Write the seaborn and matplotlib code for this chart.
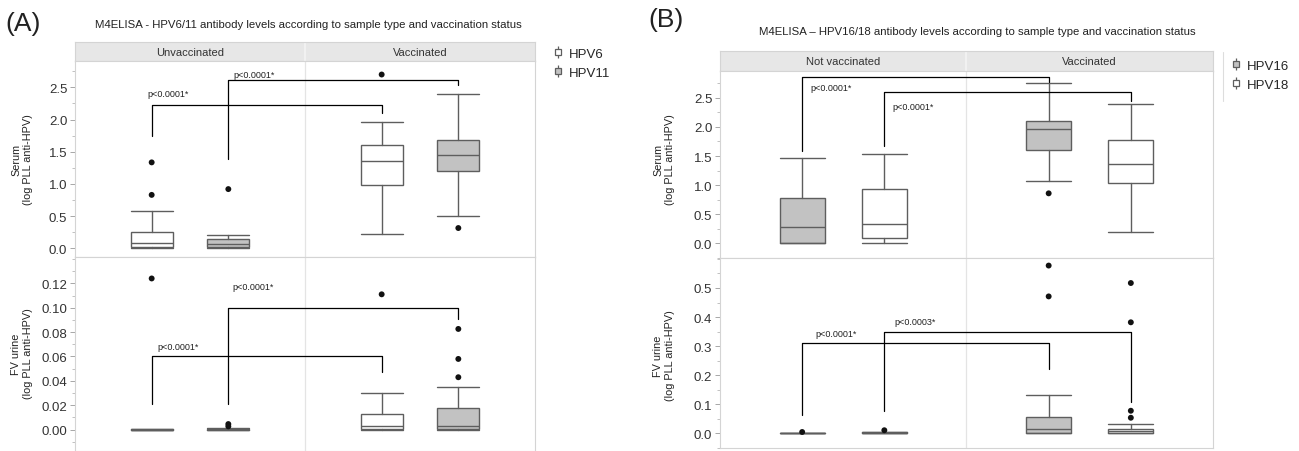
import numpy as np
import pandas as pd
import matplotlib
matplotlib.use("Agg")
import matplotlib.pyplot as plt
import seaborn as sns
from matplotlib.lines import Line2D
from matplotlib.ticker import MultipleLocator, FormatStrFormatter

sns.set_style("white")
plt.rcParams['font.family'] = ['Liberation Sans', 'DejaVu Sans']

# ---------------- Panel A : HPV6 / HPV11 ----------------
a_status = ["Unvaccinated", "Vaccinated"]
a_types = ["HPV6", "HPV11"]
# box order: Unvacc-HPV6, Unvacc-HPV11, Vacc-HPV6, Vacc-HPV11
a_serum_low = [0.0, 0.0, 0.23, 0.50]
a_serum_q1 = [0.015, 0.015, 0.98, 1.195]
a_serum_med = [0.083, 0.06, 1.36, 1.45]
a_serum_q3 = [0.25, 0.145, 1.60, 1.69]
a_serum_high = [0.575, 0.20, 1.96, 2.39]
a_serum_out = [[0.83, 1.335], [0.92], [2.70], [0.315]]
a_serum_ticks = [0.0, 0.5, 1.0, 1.5, 2.0, 2.5]

a_urine_low = [0.0, 0.0, 0.0, 0.0]
a_urine_q1 = [0.0, 0.0, 0.0005, 0.0005]
a_urine_med = [0.0, 0.0002, 0.0033, 0.0027]
a_urine_q3 = [0.0003, 0.0007, 0.0128, 0.0175]
a_urine_high = [0.0003, 0.001, 0.030, 0.035]
a_urine_out = [[0.124], [0.0027, 0.0046], [0.111], [0.043, 0.058, 0.0826]]
a_urine_ticks = [0.00, 0.02, 0.04, 0.06, 0.08, 0.10, 0.12]

# brackets, one per virus type: bar height, left leg end, right leg end, label
a_serum_br_top = [2.225, 2.61]
a_serum_br_left = [1.74, 1.39]
a_serum_br_right = [2.10, 2.54]
a_serum_br_tx = [1.21, 2.34]
a_serum_br_ty = [2.40, 2.70]
a_serum_br_lab = ["p<0.0001*", "p<0.0001*"]

a_urine_br_top = [0.060, 0.100]
a_urine_br_left = [0.0213, 0.021]
a_urine_br_right = [0.0476, 0.091]
a_urine_br_tx = [1.35, 2.32]
a_urine_br_ty = [0.068, 0.1175]
a_urine_br_lab = ["p<0.0001*", "p<0.0001*"]

# ---------------- Panel B : HPV16 / HPV18 ----------------
b_status = ["Not vaccinated", "Vaccinated"]
b_types = ["HPV16", "HPV18"]
b_serum_low = [0.0, 0.0, 1.08, 0.195]
b_serum_q1 = [0.0, 0.09, 1.61, 1.04]
b_serum_med = [0.28, 0.33, 1.96, 1.37]
b_serum_q3 = [0.774, 0.93, 2.10, 1.78]
b_serum_high = [1.47, 1.54, 2.75, 2.385]
b_serum_out = [[], [], [0.86], []]
b_serum_ticks = [0.0, 0.5, 1.0, 1.5, 2.0, 2.5]

b_urine_low = [0.0, 0.0, 0.0, 0.0]
b_urine_q1 = [0.0, 0.001, 0.002, 0.003]
b_urine_med = [0.0, 0.003, 0.015, 0.008]
b_urine_q3 = [0.001, 0.005, 0.056, 0.015]
b_urine_high = [0.001, 0.006, 0.131, 0.034]
b_urine_out = [[0.005], [0.011], [0.471, 0.577], [0.054, 0.078, 0.382, 0.517]]
b_urine_ticks = [0.0, 0.1, 0.2, 0.3, 0.4, 0.5]

b_serum_br_top = [2.86, 2.60]
b_serum_br_left = [1.58, 1.67]
b_serum_br_right = [2.77, 2.45]
b_serum_br_tx = [1.35, 2.35]
b_serum_br_ty = [2.67, 2.35]
b_serum_br_lab = ["p<0.0001*", "p<0.0001*"]

b_urine_br_top = [0.31, 0.349]
b_urine_br_left = [0.064, 0.077]
b_urine_br_right = [0.221, 0.107]
b_urine_br_tx = [1.41, 2.38]
b_urine_br_ty = [0.344, 0.386]
b_urine_br_lab = ["p<0.0001*", "p<0.0003*"]

GRAY = "#c2c2c2"
EDGE = "#5e5e5e"
FRAME = "#d4d4d4"
POS = [1, 2, 4, 5]

FIG_W, FIG_H = 1299, 452
fig = plt.figure(figsize=(FIG_W / 100, FIG_H / 100), dpi=100)


def fbox(l, t, r, b):
    return [l / FIG_W, 1 - b / FIG_H, (r - l) / FIG_W, (b - t) / FIG_H]


def strip(box, labels):
    ax = fig.add_axes(box)
    ax.set_facecolor("#e7e7e7")
    ax.set_xlim(0, 6)
    ax.set_ylim(0, 1)
    ax.axvline(3, color="#f4f4f4", lw=1.2)
    for s in ax.spines.values():
        s.set_color(FRAME)
        s.set_linewidth(0.8)
    ax.set_xticks([])
    ax.set_yticks([])
    for i, lab in enumerate(labels):
        ax.text(1.5 + 3 * i, 0.5, lab, ha="center", va="center", fontsize=8, color="#333333")


def draw_row(ax, low, q1, med, q3, high, out, fills, br, ylim, ticks, minor, fmt):
    stats = [dict(whislo=a, q1=b, med=c, q3=d, whishi=e, fliers=[])
             for a, b, c, d, e in zip(low, q1, med, q3, high)]
    line = dict(color=EDGE, linewidth=1.0)
    bp = ax.bxp(stats, positions=POS, widths=0.55, capwidths=0.55, patch_artist=True,
                showfliers=False, boxprops=dict(edgecolor=EDGE, linewidth=1.0),
                whiskerprops=line, capprops=line, medianprops=line)
    for patch, fc in zip(bp["boxes"], fills):
        patch.set_facecolor(fc)

    rows = [(p, v) for p, vals in zip(POS, out) for v in vals]
    df = pd.DataFrame(rows, columns=["pos", "value"])
    if len(df):
        sns.scatterplot(data=df, x="pos", y="value", ax=ax, color="#111111", s=18,
                        edgecolor="none", zorder=5, legend=False)

    top, left, right, tx, ty, lab = br
    for i in range(2):
        lx, rx = POS[i], POS[i + 2]
        ax.plot([lx, lx, rx, rx], [left[i], top[i], top[i], right[i]], color="black", lw=0.9)
        ax.text(tx[i], ty[i], lab[i], ha="center", va="center", fontsize=6.5, color="#222222")

    ax.axvline(3, color="#e4e4e4", lw=0.9, zorder=0)
    ax.set_xlim(0, 6)
    ax.set_ylim(*ylim)
    ax.set_xticks([])
    ax.set_xlabel("")
    ax.set_ylabel("")
    ax.set_yticks(ticks)
    ax.yaxis.set_minor_locator(MultipleLocator(minor))
    ax.yaxis.set_major_formatter(FormatStrFormatter(fmt))
    ax.tick_params(axis="y", which="major", left=True, length=3.5, width=0.6, color="#999999",
                   labelsize=9.5, labelcolor="#333333", pad=2)
    ax.tick_params(axis="y", which="minor", left=True, length=2, width=0.5, color="#aaaaaa")
    for s in ax.spines.values():
        s.set_color(FRAME)
        s.set_linewidth(0.8)


def legend_handles(fills):
    hs = []
    for fc in fills:
        hs.append((Line2D([], [], marker="|", ms=9, color=EDGE, ls="", mew=0.9),
                   Line2D([], [], marker="s", ms=5, mfc=fc, mec=EDGE, mew=0.9, ls="")))
    return hs


# ---------------- Panel A ----------------
a_fill = ["white", GRAY, "white", GRAY]
strip(fbox(75, 43, 535, 62), a_status)
ax_a1 = fig.add_axes(fbox(75, 62, 535, 258))
draw_row(ax_a1, a_serum_low, a_serum_q1, a_serum_med, a_serum_q3, a_serum_high, a_serum_out,
         a_fill, (a_serum_br_top, a_serum_br_left, a_serum_br_right, a_serum_br_tx, a_serum_br_ty,
                  a_serum_br_lab), (-0.135, 2.91), a_serum_ticks, 0.25, "%.1f")
ax_a2 = fig.add_axes(fbox(75, 258, 535, 452))
draw_row(ax_a2, a_urine_low, a_urine_q1, a_urine_med, a_urine_q3, a_urine_high, a_urine_out,
         a_fill, (a_urine_br_top, a_urine_br_left, a_urine_br_right, a_urine_br_tx, a_urine_br_ty,
                  a_urine_br_lab), (-0.0175, 0.1416), a_urine_ticks, 0.01, "%.2f")

fig.text(23 / FIG_W, 1 - 24 / FIG_H, "(A)", fontsize=19, ha="center", va="center", color="#222222")
fig.text(308 / FIG_W, 1 - 25 / FIG_H,
         "M4ELISA - HPV6/11 antibody levels according to sample type and vaccination status",
         fontsize=8.2, ha="center", va="center", color="#222222")
fig.text(22 / FIG_W, 1 - 160 / FIG_H, "Serum\n(log PLL anti-HPV)", rotation=90, fontsize=7.8,
         ha="center", va="center", multialignment="center", color="#222222")
fig.text(22 / FIG_W, 1 - 354 / FIG_H, "FV urine\n(log PLL anti-HPV)", rotation=90, fontsize=7.8,
         ha="center", va="center", multialignment="center", color="#222222")
fig.legend(legend_handles(["white", GRAY]), a_types, loc="center left",
           bbox_to_anchor=(546 / FIG_W, 1 - 64 / FIG_H), frameon=False, fontsize=9.5,
           handlelength=0.8, handletextpad=0.4, labelspacing=0.5, borderpad=0)

# ---------------- Panel B ----------------
b_fill = [GRAY, "white", GRAY, "white"]
strip(fbox(720, 52, 1213, 72), b_status)
ax_b1 = fig.add_axes(fbox(720, 72, 1213, 259))
draw_row(ax_b1, b_serum_low, b_serum_q1, b_serum_med, b_serum_q3, b_serum_high, b_serum_out,
         b_fill, (b_serum_br_top, b_serum_br_left, b_serum_br_right, b_serum_br_tx, b_serum_br_ty,
                  b_serum_br_lab), (-0.25, 2.96), b_serum_ticks, 0.25, "%.1f")
ax_b2 = fig.add_axes(fbox(720, 259, 1213, 449))
draw_row(ax_b2, b_urine_low, b_urine_q1, b_urine_med, b_urine_q3, b_urine_high, b_urine_out,
         b_fill, (b_urine_br_top, b_urine_br_left, b_urine_br_right, b_urine_br_tx, b_urine_br_ty,
                  b_urine_br_lab), (-0.05, 0.603), b_urine_ticks, 0.05, "%.1f")

fig.text(666 / FIG_W, 1 - 20 / FIG_H, "(B)", fontsize=19, ha="center", va="center", color="#222222")
fig.text(977 / FIG_W, 1 - 32 / FIG_H,
         "M4ELISA \u2013 HPV16/18 antibody levels according to sample type and vaccination status",
         fontsize=8.2, ha="center", va="center", color="#222222")
fig.text(664 / FIG_W, 1 - 160 / FIG_H, "Serum\n(log PLL anti-HPV)", rotation=90, fontsize=7.8,
         ha="center", va="center", multialignment="center", color="#222222")
fig.text(664 / FIG_W, 1 - 356 / FIG_H, "FV urine\n(log PLL anti-HPV)", rotation=90, fontsize=7.8,
         ha="center", va="center", multialignment="center", color="#222222")
fig.add_artist(Line2D([1223 / FIG_W, 1223 / FIG_W], [1 - 53 / FIG_H, 1 - 102 / FIG_H],
                      color="#dddddd", lw=0.8))
fig.legend(legend_handles([GRAY, "white"]), b_types, loc="center left",
           bbox_to_anchor=(1224 / FIG_W, 1 - 76 / FIG_H), frameon=False, fontsize=9.5,
           handlelength=0.8, handletextpad=0.4, labelspacing=0.5, borderpad=0)

fig.savefig("out.png", dpi=100)
